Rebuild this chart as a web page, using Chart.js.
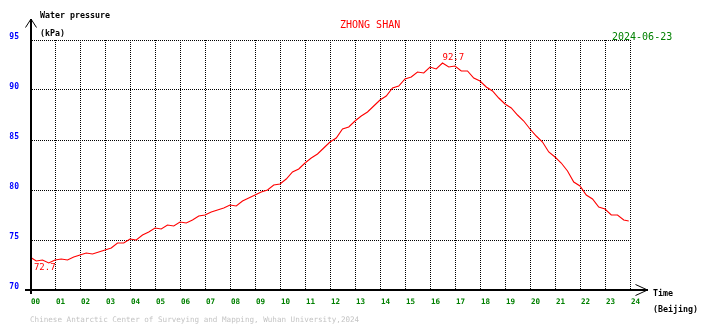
<!DOCTYPE html>
<html lang="en">
<head>
<meta charset="utf-8">
<title>ZHONG SHAN - Water pressure</title>
<script src="https://cdn.jsdelivr.net/npm/chart.js@4.4.1/dist/chart.umd.min.js"></script>
<style>
    html, body { margin: 0; padding: 0; background: #fff; }
    #chartBox { width: 710px; height: 328px; }
</style>
</head>
<body>
<div id="chartBox"><canvas id="pressureChart" width="710" height="328"></canvas></div>
<script>
const STATION_NAME = 'ZHONG SHAN';
const DATE_LABEL = '2024-06-23';
const Y_TITLE = ['Water pressure', '(kPa)'];
const X_TITLE = ['Time', '(Beijing)'];
const FOOTER_TEXT = 'Chinese Antarctic Center of Surveying and Mapping, Wuhan University,2024';

const HOUR_LABELS = ['00', '01', '02', '03', '04', '05', '06', '07', '08', '09', '10', '11', '12',
    '13', '14', '15', '16', '17', '18', '19', '20', '21', '22', '23', '24'];
const PRESSURE_TICKS = [70, 75, 80, 85, 90, 95];

// one reading every 15 minutes from 00:00 (kPa)
const SAMPLE_STEP_HOURS = 0.25;
const PRESSURE_KPA = [
    73.3, 72.9, 73.0, 72.7, 73.0, 73.1, 73.0, 73.3,
    73.5, 73.7, 73.6, 73.8, 74.0, 74.2, 74.7, 74.7,
    75.1, 75.0, 75.5, 75.8, 76.2, 76.1, 76.5, 76.4,
    76.8, 76.7, 77.0, 77.4, 77.5, 77.8, 78.0, 78.2,
    78.5, 78.4, 78.9, 79.2, 79.5, 79.8, 80.0, 80.5,
    80.6, 81.1, 81.8, 82.1, 82.7, 83.2, 83.6, 84.2,
    84.8, 85.2, 86.1, 86.3, 86.9, 87.4, 87.8, 88.4,
    89.0, 89.4, 90.2, 90.4, 91.1, 91.3, 91.8, 91.7,
    92.3, 92.1, 92.7, 92.3, 92.4, 91.9, 91.9, 91.2,
    90.9, 90.3, 89.9, 89.2, 88.6, 88.2, 87.5, 86.9,
    86.1, 85.4, 84.8, 83.8, 83.3, 82.7, 81.9, 80.8,
    80.4, 79.5, 79.1, 78.3, 78.1, 77.5, 77.5, 77.0,
];
const LAST_READING = { hour: 23.95, kpa: 76.9 };

const MONO = '"DejaVu Sans Mono", "Liberation Mono", monospace';

function buildPoints() {
    const puntos = PRESSURE_KPA.map((kpa, i) => ({ x: i * SAMPLE_STEP_HOURS, y: kpa }));
    puntos.push({ x: LAST_READING.hour, y: LAST_READING.kpa });
    return puntos;
}

const points = buildPoints();

const decorations = {
    id: 'decorations',
    afterDatasetsDraw(chart) {
        const { ctx, chartArea, scales } = chart;
        const xs = scales.x;
        const ys = scales.y;
        const left = chartArea.left;
        const bottom = chartArea.bottom;
        const right = chartArea.right;
        const areaTop = chartArea.top;

        ctx.save();

        // axes with open arrow heads
        ctx.strokeStyle = '#000';
        ctx.lineWidth = 2;
        ctx.beginPath();
        ctx.moveTo(left + 1, bottom + 4);
        ctx.lineTo(left + 1, areaTop - 21);
        ctx.moveTo(left - 5, bottom);
        ctx.lineTo(right + 18, bottom);
        ctx.stroke();

        ctx.lineWidth = 1;
        ctx.beginPath();
        ctx.moveTo(left - 4.5, areaTop - 12.5);
        ctx.lineTo(left + 1, areaTop - 21);
        ctx.lineTo(left + 6.5, areaTop - 12.5);
        ctx.moveTo(right + 5.5, bottom - 5.5);
        ctx.lineTo(right + 17.5, bottom);
        ctx.lineTo(right + 5.5, bottom + 5.5);
        ctx.stroke();

        // y tick labels
        ctx.font = `bold 8px ${MONO}`;
        ctx.fillStyle = '#0000ff';
        ctx.textAlign = 'right';
        ctx.textBaseline = 'middle';
        PRESSURE_TICKS.forEach((valor) => {
            ctx.fillText(String(valor), left - 11, ys.getPixelForValue(valor) - 3);
        });

        // x tick labels
        ctx.font = `bold 7.6px ${MONO}`;
        ctx.fillStyle = '#008000';
        ctx.textAlign = 'left';
        HOUR_LABELS.forEach((etiqueta, hora) => {
            ctx.fillText(etiqueta, xs.getPixelForValue(hora) + 1, bottom + 12);
        });

        // axis titles
        ctx.font = `bold 8.3px ${MONO}`;
        ctx.fillStyle = '#000';
        ctx.fillText(Y_TITLE[0], left + 10, areaTop - 24);
        ctx.fillText(Y_TITLE[1], left + 10, areaTop - 6);
        ctx.fillText(X_TITLE[0], right + 23, bottom + 4);
        ctx.fillText(X_TITLE[1], right + 23, bottom + 20);

        // station and date
        ctx.font = `10px ${MONO}`;
        ctx.fillStyle = '#ff0000';
        ctx.fillText(STATION_NAME, 340, areaTop - 15);
        ctx.fillStyle = '#008000';
        ctx.fillText(DATE_LABEL, 612, areaTop - 3);

        // footer
        ctx.font = `7.6px ${MONO}`;
        ctx.fillStyle = '#c4c4c4';
        ctx.fillText(FOOTER_TEXT, left, bottom + 30);

        // min / max of the day
        const valores = points.map((p) => p.y);
        const minimo = points[valores.indexOf(Math.min(...valores))];
        const maximo = points[valores.indexOf(Math.max(...valores))];
        ctx.font = `9px ${MONO}`;
        ctx.fillStyle = '#ff0000';
        ctx.textAlign = 'center';
        ctx.textBaseline = 'top';
        ctx.fillText(minimo.y.toFixed(1), xs.getPixelForValue(minimo.x) - 4, ys.getPixelForValue(minimo.y) + 0.5);
        ctx.textAlign = 'left';
        ctx.textBaseline = 'bottom';
        ctx.fillText(maximo.y.toFixed(1), xs.getPixelForValue(maximo.x), ys.getPixelForValue(maximo.y) - 1);

        ctx.restore();
    },
};

new Chart(document.getElementById('pressureChart'), {
    type: 'line',
    data: {
        datasets: [
            {
                label: 'Water pressure',
                data: points,
                borderColor: '#ff0000',
                borderWidth: 1.1,
                pointRadius: 0,
                tension: 0,
                fill: false,
            },
        ],
    },
    options: {
        responsive: false,
        animation: false,
        layout: {
            padding: { left: 30, right: 80, top: 40, bottom: 38 },
        },
        plugins: {
            legend: { display: false },
            tooltip: { enabled: false },
        },
        scales: {
            x: {
                type: 'linear',
                min: 0,
                max: 24,
                afterFit: (scale) => { scale.height = 0; },
                ticks: { display: false, stepSize: 1 },
                grid: { color: '#000', lineWidth: 1, drawTicks: false },
                border: { display: false, dash: [1, 1] },
            },
            y: {
                min: 70,
                max: 95,
                afterFit: (scale) => { scale.width = 0; },
                ticks: { display: false, stepSize: 5 },
                grid: { color: '#000', lineWidth: 1, drawTicks: false },
                border: { display: false, dash: [1, 1] },
            },
        },
    },
    plugins: [decorations],
});
</script>
</body>
</html>
